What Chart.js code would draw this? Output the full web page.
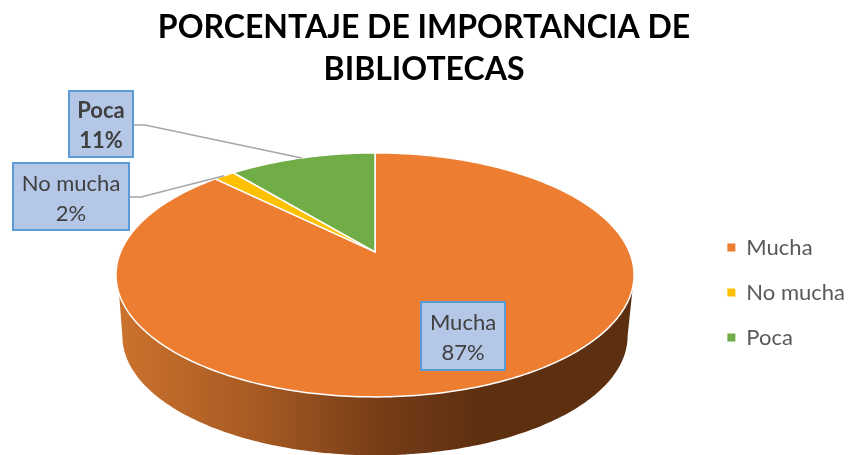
<!DOCTYPE html>
<html>
<head>
<meta charset="utf-8">
<title>Porcentaje de importancia de bibliotecas</title>
<script src="https://cdn.jsdelivr.net/npm/chart.js@4"></script>
<style>
    html, body { margin: 0; padding: 0; background: #fff; }
    canvas { display: block; }
</style>
</head>
<body>
<canvas id="pie-chart" width="848" height="455"></canvas>
<script>
const titleLines = ['PORCENTAJE DE IMPORTANCIA DE', 'BIBLIOTECAS'];
const categories = ['Mucha', 'No mucha', 'Poca'];
const shares = [87.4, 1.6, 11];
const sliceColors = ['#ED7D31', '#FFC000', '#70AD47'];

// Label boxes, same order as categories
const labelBoxes = [
    { left: 421, top: 302, width: 84, height: 68, bold: false },
    { left: 13, top: 163, width: 116, height: 67, bold: false, lineFrom: [129, 197], elbow: [141, 197] },
    { left: 69, top: 91, width: 64, height: 66, bold: true, lineFrom: [133, 125], elbow: [145, 125] }
];

// Perspective of the tilted pie
const pieCenterX = 375;
const squash = 0.4625;
const tilt = 0.1885;
const pivotLift = 23;
const depth = 62;
const baseScale = 0.975;

function project(arc, angle, scale, drop) {
    const u = Math.cos(angle);
    const v = -Math.sin(angle);
    const w = 1 + tilt * v;
    const r = arc.outerRadius * (scale === undefined ? 1 : scale);
    return [
        arc.x + r * u / w,
        arc.y - pivotLift - r * squash * v / w + (drop || 0)
    ];
}

function traceArc(ctx, arc, from, to, scale, drop) {
    const steps = Math.max(2, Math.ceil(Math.abs(to - from) * 60));
    for (let i = 0; i <= steps; i++) {
        const p = project(arc, from + (to - from) * i / steps, scale, drop);
        ctx.lineTo(p[0], p[1]);
    }
}

const tiltedPie = {
    id: 'tiltedPie',
    afterLayout(chart) {
        // pie and legend are not where the default layout would put them
        const area = chart.chartArea;
        area.left = 2 * pieCenterX - area.right;
        area.width = area.right - area.left;
        const legend = chart.legend;
        legend.left += 7;
        legend.right += 7;
        legend.top += 65;
        legend.bottom += 65;
    },
    beforeDatasetDraw(chart) {
        const ctx = chart.ctx;
        const arcs = chart.getDatasetMeta(0).data;
        const first = arcs[0];

        // Side wall
        const gradient = ctx.createLinearGradient(118, 0, 632, 0);
        gradient.addColorStop(0, '#CC722E');
        gradient.addColorStop(0.27, '#A65A22');
        gradient.addColorStop(0.52, '#753C17');
        gradient.addColorStop(0.7, '#5E3010');
        gradient.addColorStop(1, '#5C2F10');
        ctx.save();
        ctx.beginPath();
        traceArc(ctx, first, 0.34, 0.19);
        traceArc(ctx, first, 0.19, Math.PI - 0.19, baseScale, depth);
        traceArc(ctx, first, Math.PI - 0.34, 0.34);
        ctx.closePath();
        ctx.fillStyle = gradient;
        ctx.fill();

        // Top face, one slice at a time from the angles the library worked out
        arcs.forEach(arc => {
            const pivot = project(arc, 0, 0);
            ctx.beginPath();
            ctx.moveTo(pivot[0], pivot[1]);
            traceArc(ctx, arc, arc.startAngle, arc.endAngle);
            ctx.closePath();
            ctx.fillStyle = arc.options.backgroundColor;
            ctx.fill();
            ctx.strokeStyle = arc.options.borderColor;
            ctx.lineWidth = arc.options.borderWidth;
            ctx.lineJoin = 'round';
            ctx.stroke();
        });
        ctx.restore();
        return false;
    },
    afterDatasetsDraw(chart) {
        const ctx = chart.ctx;
        const arcs = chart.getDatasetMeta(0).data;
        const total = shares.reduce((a, b) => a + b, 0);

        ctx.save();
        labelBoxes.forEach((box, i) => {
            // Leader line
            if (box.lineFrom) {
                const end = project(arcs[i], (arcs[i].startAngle + arcs[i].endAngle) / 2);
                ctx.beginPath();
                ctx.moveTo(box.lineFrom[0], box.lineFrom[1]);
                ctx.lineTo(box.elbow[0], box.elbow[1]);
                ctx.lineTo(end[0], end[1]);
                ctx.strokeStyle = '#A6A6A6';
                ctx.lineWidth = 1.5;
                ctx.stroke();
            }

            ctx.fillStyle = '#B4C7E7';
            ctx.fillRect(box.left, box.top, box.width, box.height);
            ctx.strokeStyle = '#5B9BD5';
            ctx.lineWidth = 2;
            ctx.strokeRect(box.left, box.top, box.width, box.height);

            const midX = box.left + box.width / 2;
            const midY = box.top + box.height / 2;
            ctx.fillStyle = '#404040';
            ctx.font = (box.bold ? 'bold ' : '') + '22px Lato';
            ctx.textAlign = 'center';
            ctx.textBaseline = 'middle';
            ctx.fillText(categories[i], midX, midY - 13);
            ctx.fillText(Math.round(shares[i] / total * 100) + '%', midX, midY + 17);
        });
        ctx.restore();
    }
};

new Chart(document.getElementById('pie-chart').getContext('2d'), {
    type: 'pie',
    data: {
        labels: categories,
        datasets: [{
            data: shares,
            backgroundColor: sliceColors,
            borderColor: '#FFFFFF',
            borderWidth: 1.5,
            radius: 254.4
        }]
    },
    options: {
        responsive: false,
        animation: false,
        plugins: {
            title: {
                display: true,
                text: titleLines,
                color: '#000000',
                font: { family: 'Lato', size: 32, weight: 'bold', lineHeight: 1.31 },
                padding: { top: 7, bottom: 4 }
            },
            legend: {
                position: 'right',
                labels: {
                    color: '#595959',
                    font: { family: 'Lato', size: 22 },
                    boxWidth: 8,
                    boxHeight: 8,
                    padding: 23,
                    generateLabels(chart) {
                        const items = Chart.overrides.pie.plugins.legend.labels.generateLabels(chart);
                        items.forEach(item => { item.lineWidth = 0; });
                        return items;
                    }
                }
            },
            tooltip: { enabled: false }
        }
    },
    plugins: [tiltedPie]
});
</script>
</body>
</html>
